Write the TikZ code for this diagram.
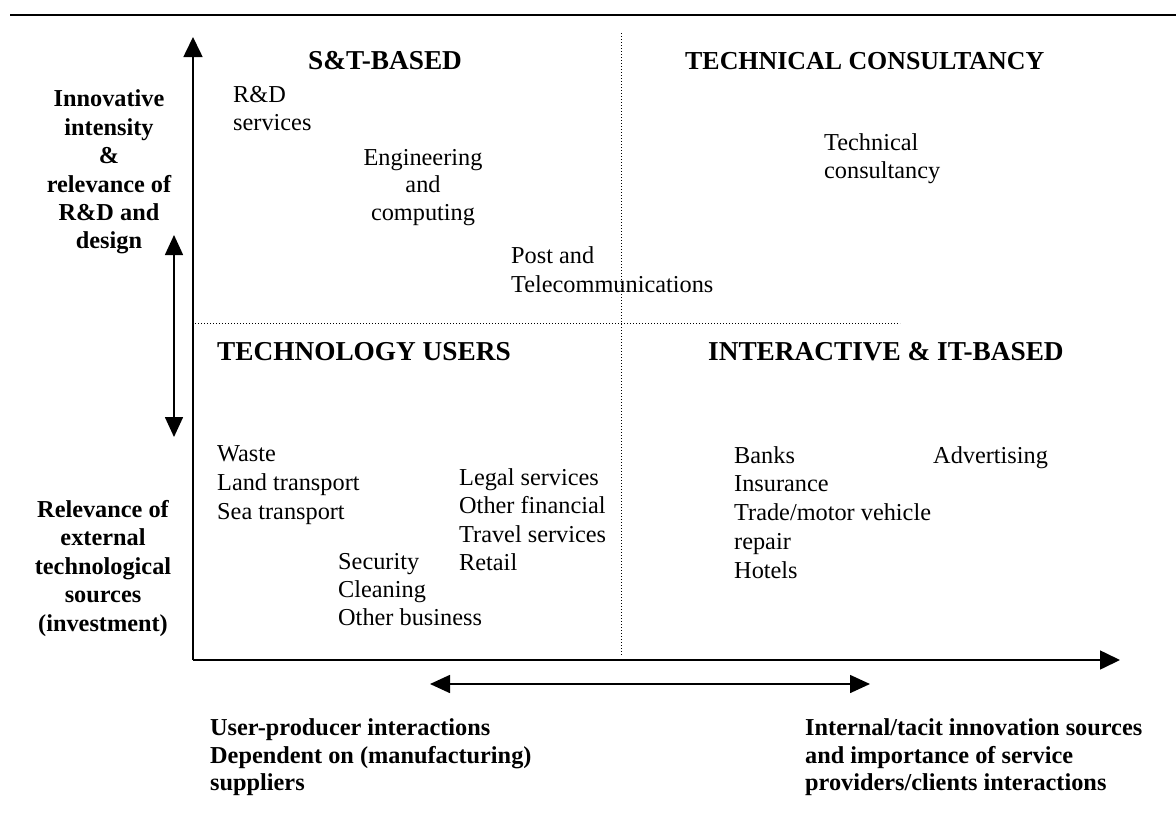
\documentclass[tikz,border=0pt]{standalone}
\usepackage{fontspec}
\setmainfont{Liberation Serif}
\usetikzlibrary{arrows.meta}
\tikzset{
  txt/.style={inner sep=0pt, anchor=base west, font=\fontsize{24.3}{28.5}\selectfont},
  txtc/.style={inner sep=0pt, anchor=base, font=\fontsize{24.3}{28.5}\selectfont},
  lbl/.style={inner sep=0pt, anchor=base, font=\fontsize{24.3}{28.5}\selectfont\bfseries},
  lblw/.style={inner sep=0pt, anchor=base west, font=\fontsize{24.3}{28.5}\selectfont\bfseries},
  head/.style={inner sep=0pt, anchor=base west, font=\fontsize{27.3}{32}\selectfont\bfseries},
  axis/.style={line width=1.6pt, -{Triangle[length=20pt,width=19pt]}},
  dbl/.style={line width=1.6pt, {Triangle[length=20pt,width=18pt]}-{Triangle[length=20pt,width=18pt]}},
  dots/.style={line width=1pt, dash pattern=on 1.2pt off 1.8pt},
}
\begin{document}
\begin{tikzpicture}[x=1pt,y=-1pt]
\useasboundingbox (0,0) rectangle (1176,830);
% top rule
\coordinate (rl) at (10,15);
\coordinate (rr) at (1176,15);
\draw[line width=2.4pt] (rl) -- (rr);
% axes
\coordinate (O) at (193,660);
\coordinate (ytop) at (193,37);
\coordinate (xend) at (1120,660);
\draw[axis] (O) -- (ytop);
\draw[axis] (O) -- (xend);
% dotted quadrant lines
\coordinate (vt) at (621,33);
\coordinate (vb) at (621,655);
\coordinate (hl) at (195,323);
\coordinate (hr) at (900,323);
\draw[dots] (vt) -- (vb);
\draw[dots] (hl) -- (hr);
% double arrows
\coordinate (da1) at (174,235);
\coordinate (da2) at (174,437);
\draw[dbl] (da1) -- (da2);
\coordinate (db1) at (430,684);
\coordinate (db2) at (870,684);
\draw[dbl] (db1) -- (db2);
% left labels
\node[lbl] (a1) at (109,106) {Innovative};
\node[lbl] (a2) at (109,135) {intensity};
\node[lbl] (a3) at (109,163) {\&};
\node[lbl] (a4) at (109,192) {relevance of};
\node[lbl] (a5) at (109,220) {R\&D and};
\node[lbl] (a6) at (109,248) {design};
\node[lbl] (b1) at (103,517) {Relevance of};
\node[lbl] (b2) at (103,545.5) {external};
\node[lbl] (b3) at (103,574) {technological};
\node[lbl] (b4) at (103,602.5) {sources};
\node[lbl] (b5) at (103,631) {(investment)};
% headings
\node[head] (h1) at (308,69) {S\&T-BASED};
\node[head, font=\fontsize{25.9}{32}\selectfont\bfseries] (h2) at (685,69) {TECHNICAL CONSULTANCY};
\node[head] (h3) at (217,360) {TECHNOLOGY USERS};
\node[head] (h4) at (708,360) {INTERACTIVE \& IT-BASED};
% S&T quadrant
\node[txt] (s1) at (233,102) {R\&D};
\node[txt] (s2) at (233,130) {services};
\node[txtc] (s3) at (423,165) {Engineering};
\node[txtc] (s4) at (423,192) {and};
\node[txtc] (s5) at (423,220) {computing};
\node[txt] (s6) at (511,263) {Post and};
\node[txt] (s7) at (511,292) {Telecommunications};
% technical consultancy
\node[txt] (t1) at (824,150) {Technical};
\node[txt] (t2) at (824,178) {consultancy};
% technology users
\node[txt] (u1) at (217,461) {Waste};
\node[txt] (u2) at (217,490) {Land transport};
\node[txt] (u3) at (217,519) {Sea transport};
\node[txt] (u4) at (459,485) {Legal services};
\node[txt] (u5) at (459,513) {Other financial};
\node[txt] (u6) at (459,542) {Travel services};
\node[txt] (u7) at (459,570) {Retail};
\node[txt] (u8) at (338,569) {Security};
\node[txt] (u9) at (338,597) {Cleaning};
\node[txt] (u10) at (338,625) {Other business};
% interactive
\node[txt] (i1) at (734,463) {Banks};
\node[txt] (i2) at (734,491) {Insurance};
\node[txt] (i3) at (734,520) {Trade/motor vehicle};
\node[txt] (i4) at (734,549) {repair};
\node[txt] (i5) at (734,578) {Hotels};
\node[txt] (i6) at (933,463) {Advertising};
% bottom labels
\node[lblw] (c1) at (210,735) {User-producer interactions};
\node[lblw] (c2) at (210,763) {Dependent on (manufacturing)};
\node[lblw] (c3) at (210,790) {suppliers};
\node[lblw] (d1) at (805,735) {Internal/tacit innovation sources};
\node[lblw] (d2) at (805,763) {and importance of service};
\node[lblw] (d3) at (805,790) {providers/clients interactions};
\end{tikzpicture}
\end{document}
